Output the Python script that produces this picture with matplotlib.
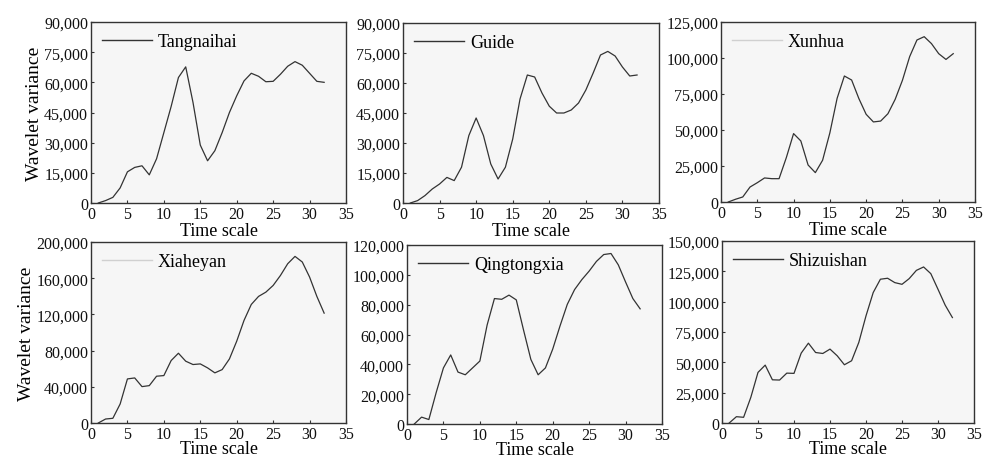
import matplotlib.pyplot as plt
from matplotlib.ticker import FuncFormatter

plt.rcParams['font.family'] = ['Liberation Serif', 'DejaVu Serif']

# time scale 1..32
scale = list(range(1, 33))

tangnaihai = [0, 1200, 2800, 7500, 15500, 17700, 18500, 14000, 22000, 35000,
              48000, 62400, 67700, 50000, 28800, 21000, 26000, 35000, 45000, 53300,
              60700, 64500, 63000, 60300, 60500, 64000, 68000, 70300, 68500, 64500,
              60500, 60000]
guide = [0, 1200, 3700, 7000, 9500, 12800, 11200, 17900, 33700, 42500,
         33700, 19500, 12000, 17900, 32000, 52000, 64000, 63000, 55000, 48400,
         45000, 45000, 46500, 50000, 56500, 65000, 74000, 75800, 73500, 68000,
         63500, 64000]
xunhua = [0, 1900, 3500, 10400, 13400, 16700, 16200, 16200, 30800, 47500,
          42400, 25700, 20400, 29000, 48000, 72000, 87500, 84700, 71800, 60900,
          55600, 56200, 61300, 71300, 84500, 101000, 112500, 114800, 110000, 103000,
          99000, 103000]
xiaheyan = [0, 4400, 5200, 21000, 48700, 49800, 40200, 41300, 51700, 52400,
            69000, 77100, 68300, 64600, 65300, 60900, 55400, 59000, 70800, 90400,
            113300, 131000, 139900, 144600, 152000, 163000, 176000, 184100, 177900, 161300,
            139900, 121400]
qingtongxia = [0, 4600, 3000, 21000, 37600, 46300, 34800, 33000, 37600, 42200,
               66400, 84100, 83600, 86400, 83200, 62900, 43300, 33000, 37600, 50200,
               65700, 80200, 90100, 96800, 102500, 109000, 113600, 114300, 106700, 95200,
               84100, 77200]
shizuishan = [0, 5200, 4700, 21100, 41700, 47700, 35600, 35400, 41100, 40900,
              57600, 65800, 58100, 57300, 60900, 55400, 48000, 51300, 66400, 88300,
              107500, 118500, 119300, 115700, 114300, 119000, 125800, 128600, 123100, 110200,
              97100, 86900]

stations = ['Tangnaihai', 'Guide', 'Xunhua', 'Xiaheyan', 'Qingtongxia', 'Shizuishan']
series = [tangnaihai, guide, xunhua, xiaheyan, qingtongxia, shizuishan]
ymax = [90000, 90000, 125000, 200000, 120000, 150000]
ystep = [15000, 15000, 25000, 40000, 20000, 25000]
legend_col = ['#333333', '#333333', '#d0d0d0', '#d0d0d0', '#333333', '#333333']

# axes boxes in pixels: left, right, top, bottom
boxes = [(91, 346, 23, 204), (403, 659, 24, 204), (721, 975, 23, 203),
         (91, 346, 243, 424), (407, 662, 246, 425), (722, 974, 242, 424)]

W, H = 984, 460
fig = plt.figure(figsize=(W / 100, H / 100), dpi=100)
fmt = FuncFormatter(lambda v, p: '{:,.0f}'.format(v))

for i in range(6):
    l, r, t, b = boxes[i]
    ax = fig.add_axes([l / W, (H - b) / H, (r - l) / W, (b - t) / H])
    ax.set_facecolor('#f6f6f6')
    ax.plot(scale, series[i], color='#333333', lw=0.9)
    ax.set_xlim(0, 35)
    ax.set_ylim(0, ymax[i])
    ax.set_xticks(range(0, 36, 5))
    ax.set_yticks(range(0, ymax[i] + 1, ystep[i]))
    ax.yaxis.set_major_formatter(fmt)
    ax.tick_params(direction='in', labelsize=11.5, length=2.5, width=0.8, pad=2,
                   colors='#333333', labelcolor='#111111')
    for s in ax.spines.values():
        s.set_color('#333333')
        s.set_linewidth(1.0)
    ax.set_xlabel('Time scale', fontsize=13, labelpad=0.5 if i < 3 else -1)
    if i % 3 == 0:
        ax.set_ylabel('Wavelet variance', fontsize=14, labelpad=1)
    h, = ax.plot([], [], color=legend_col[i], lw=1.0)
    ax.legend([h], [stations[i]], loc='upper left', frameon=False, fontsize=13,
              handlelength=2.8, handletextpad=0.3, borderaxespad=0.2)

fig.savefig('out.png', dpi=100)
